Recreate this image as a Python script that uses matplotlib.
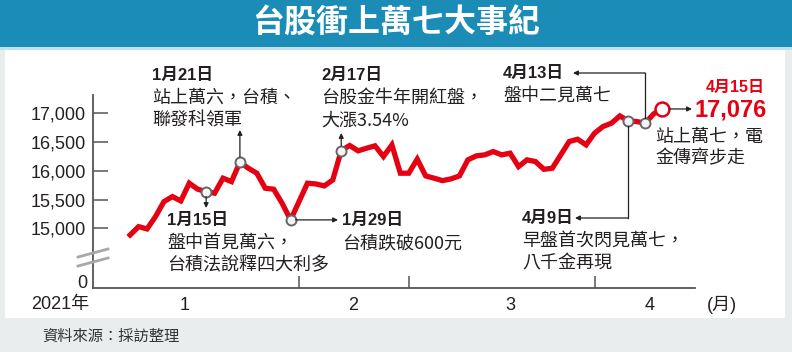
import matplotlib
matplotlib.use("Agg")
import matplotlib.pyplot as plt
from matplotlib.patches import Rectangle, FancyArrowPatch
from matplotlib.lines import Line2D

CJK = ["Noto Sans CJK TC", "DejaVu Sans"]
LAT = ["Liberation Sans", "Noto Sans CJK TC"]

# TAIEX daily close, trading days 2021-01-04 .. 2021-04-15
jan_days = [4, 5, 6, 7, 8, 11, 12, 13, 14, 15, 18, 19, 20, 21, 22, 25, 26, 27, 28, 29]
feb_days = [1, 2, 3, 4, 5, 17, 18, 19, 22, 23, 24, 25, 26]
mar_days = [2, 3, 4, 5, 8, 9, 10, 11, 12, 15, 16, 17, 18, 19, 22, 23, 24, 25, 26, 29, 30, 31]
apr_days = [1, 6, 7, 8, 9, 12, 13, 14, 15]

jan_close = [14883, 15028, 14988, 15202, 15463, 15551, 15476, 15784, 15679, 15638,
             15610, 15871, 15812, 16150, 16045, 15958, 15697, 15679, 15435, 15145]
feb_close = [15464, 15784, 15771, 15737, 15841, 16352, 16440, 16347, 16393, 16434,
             16248, 16451, 15958]
mar_close = [15958, 16202, 15911, 15871, 15829, 15859, 15911, 16190, 16260, 16277,
             16335, 16277, 16306, 16073, 16190, 16161, 16026, 16045, 16277, 16509,
             16549, 16451]
apr_close = [16654, 16770, 16828, 16955, 16868, 16857, 16828, 16990, 17076]

yticks = [15000, 15500, 16000, 16500, 17000]
ytick_labels = ["15,000", "15,500", "16,000", "16,500", "17,000"]
month_labels = ["1", "2", "3", "4"]

dates = ([f"1/{d}" for d in jan_days] + [f"2/{d}" for d in feb_days]
         + [f"3/{d}" for d in mar_days] + [f"4/{d}" for d in apr_days])
closes = jan_close + feb_close + mar_close + apr_close
idx = list(range(len(closes)))

# --- layout (pixels of the 792x352 picture) ---
W, H = 792, 352
RED = "#e50012"
INK = "#231f20"
AXC = "#555555"
Y0, Y1 = 13960, 17319          # bottom of axis stands for "0"
X0, X1 = -4.4, 66.9
month_label_x = [6.4, 26.4, 45.0, 61.5]


def fp(x, y):
    """picture pixel (y from top) -> figure fraction"""
    return (x / W, 1 - y / H)


fig = plt.figure(figsize=(W / 100, H / 100), dpi=100)
fig.patch.set_facecolor("#eaeded")

# background panels (drawn under the axes)
fig.patches.append(Rectangle(fp(5, 318), 780 / W, 270 / H, transform=fig.transFigure,
                             facecolor="white", edgecolor="none", zorder=-5))
fig.patches.append(Rectangle(fp(0, 50), 1, 3 / H, transform=fig.transFigure,
                             facecolor="#bfe2ec", edgecolor="none", zorder=-5))
fig.patches.append(Rectangle(fp(0, 47), 1, 47 / H, transform=fig.transFigure,
                             facecolor="#1b8cb6", edgecolor="none", zorder=-5))

fig.text(0.5, fp(0, 24)[1], "台股衝上萬七大事紀", color="white", fontsize=23,
         fontweight="bold", family=CJK, ha="center", va="center")
fig.text(*fp(42, 336), "資料來源：採訪整理", color="#333333", fontsize=11,
         family=CJK, ha="left", va="center")

ax = fig.add_axes([93 / W, 1 - 288 / H, (695 - 93) / W, (288 - 95) / H])
ax.patch.set_alpha(0)
ax.set_xlim(X0, X1)
ax.set_ylim(Y0, Y1)
for s in ["top", "right"]:
    ax.spines[s].set_visible(False)
for s in ["left", "bottom"]:
    ax.spines[s].set_color(AXC)
    ax.spines[s].set_linewidth(1.3)

ax.set_yticks(yticks)
ax.set_yticklabels(ytick_labels, family=LAT, fontsize=13, color=INK)
ax.tick_params(axis="y", direction="in", length=10.5, width=1.1, color=AXC, pad=5)

# month boundaries = first trading day of Feb, Mar, Apr
bounds = [dates.index("2/1"), dates.index("3/2"), dates.index("4/1")]
ax.set_xticks(bounds)
ax.set_xticklabels([])
ax.tick_params(axis="x", direction="in", length=9, width=1.1, color=AXC)

ly = -(305 - 288) / (288 - 95)
for x, lab in zip(month_label_x, month_labels):
    ax.text(x, ly, lab, transform=ax.get_xaxis_transform(), family=LAT, fontsize=13,
            color=INK, ha="center", va="center")
fig.text(*fp(737, 305), "(月)", family=LAT, fontsize=13, color=INK, ha="right", va="center")
fig.text(*fp(31, 305), "2021年", family=LAT, fontsize=13, color=INK, ha="left", va="center")
fig.text(*fp(87, 283), "0", family=LAT, fontsize=13, color=INK, ha="right", va="center")

# axis break marks
for ya, yb in [(257, 249), (266, 258)]:
    fig.add_artist(Line2D([78 / W, 108 / W], [fp(0, ya)[1], fp(0, yb)[1]],
                          transform=fig.transFigure, color="#a8a8a8", lw=2))

ax.plot(idx, closes, color=RED, lw=3.8, solid_joinstyle="miter", zorder=3)


def dp(date):
    i = dates.index(date)
    x, y = ax.transData.transform((i, closes[i]))
    return x, H - y


def arrow(p0, p1):
    fig.add_artist(FancyArrowPatch(fp(*p0), fp(*p1), transform=fig.transFigure,
                                   arrowstyle="-|>", mutation_scale=7, lw=0.9,
                                   color=INK, shrinkA=0, shrinkB=0))


def line(p0, p1):
    fig.add_artist(Line2D([p0[0] / W, p1[0] / W], [fp(*p0)[1], fp(*p1)[1]],
                          transform=fig.transFigure, color=INK, lw=0.9))


def note(x, y, date, body, dcolor=INK):
    fig.text(*fp(x, y), date, family=LAT, fontsize=12, fontweight="bold",
             color=dcolor, ha="left", va="center")
    for k, t in enumerate(body):
        fig.text(*fp(x, y + 23 + 22.5 * k), t, family=CJK, fontsize=13,
                 color=INK, ha="left", va="center")


R = 5
# event arrows
x, y = dp("1/15"); arrow((x, y + R), (x, 208))
x, y = dp("1/21"); arrow((x, y - R), (x, 130))
x, y = dp("2/17"); arrow((x, y - R), (x, 133))
x, y = dp("1/29"); arrow((x + R, y), (338, y))
x, y = dp("4/13"); line((x, y - R), (x, 73)); arrow((x, 73), (573, 73))
x, y = dp("4/9"); line((x, y + R), (x, 218)); arrow((x, 218), (575, 218))
x, y = dp("4/15"); arrow((x + 7, y), (692, y))

note(152, 75, "1月21日", ["站上萬六，台積、", "聯發科領軍"])
note(321, 75, "2月17日", ["台股金牛年開紅盤，", "大漲3.54%"])
note(503, 73, "4月13日", ["盤中二見萬七"])
note(167, 220, "1月15日", ["盤中首見萬六，", "台積法說釋四大利多"])
note(342, 220, "1月29日", ["台積跌破600元"])
note(522, 218, "4月9日", ["早盤首次閃見萬七，", "八千金再現"])

fig.text(*fp(765, 87), "4月15日", family=LAT, fontsize=11.5, fontweight="bold",
         color=RED, ha="right", va="center")
fig.text(*fp(767, 110), f"{closes[-1]:,}", family=LAT, fontsize=17, fontweight="bold",
         color=RED, ha="right", va="center")
for k, t in enumerate(["站上萬七，電", "金傳齊步走"]):
    fig.text(*fp(655, 137 + 21.5 * k), t, family=CJK, fontsize=13, color=INK,
             ha="left", va="center")

# markers
for d in ["1/15", "1/21", "1/29", "2/17", "4/9", "4/13"]:
    i = dates.index(d)
    ax.plot(i, closes[i], "o", ms=7.2, mfc="#f4f4f4", mec="#666666", mew=1.4,
            zorder=4, clip_on=False)
ax.plot(idx[-1], closes[-1], "o", ms=10, mfc="white", mec=RED, mew=1.8,
        zorder=4, clip_on=False)

fig.savefig("out.png", dpi=100, facecolor=fig.get_facecolor())
